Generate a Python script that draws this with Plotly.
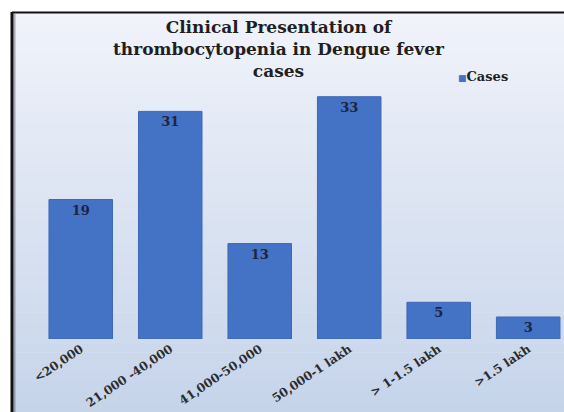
import plotly.graph_objects as go

categories = ["<20,000", "21,000 -40,000", "41,000-50,000", "50,000-1 lakh", "> 1-1.5 lakh", ">1.5 lakh"]
cases = [19, 31, 13, 33, 5, 3]
series_name = "Cases"
title_lines = ["Clinical Presentation of", "thrombocytopenia in Dengue fever", "cases"]

W, H = 564, 412
L, R, T, B = 36, 0, 60, 73
pw, ph = W - L - R, H - T - B


def px(x):
    return (x - L) / pw


def py(y):
    return (H - B - y) / ph


SERIF = "DejaVu Serif, serif"
BAR = "#4472c4"

fig = go.Figure()
fig.add_trace(go.Bar(
    x=categories, y=cases, name=series_name,
    marker=dict(color=BAR, line=dict(color="#3f68b5", width=1)),
    text=[str(v) for v in cases], textposition="inside", insidetextanchor="end",
    textfont=dict(family=SERIF, size=13, color="#1b2540", weight="bold"),
    constraintext="none", showlegend=False,
))

shapes = []
top, bot = 13, H
n = 40
c0 = (240, 243, 250)
c1 = (198, 212, 234)
for i in range(n):
    y0 = top + (bot - top) * i / n
    y1 = top + (bot - top) * (i + 1) / n
    t = i / (n - 1)
    c = tuple(round(c0[k] + (c1[k] - c0[k]) * t) for k in range(3))
    shapes.append(dict(type="rect", xref="paper", yref="paper", layer="below",
                       x0=px(12), x1=px(W + 2), y0=py(y1 + 0.5), y1=py(y0),
                       line=dict(width=0), fillcolor="rgb(%d,%d,%d)" % c))
shapes.append(dict(type="line", xref="paper", yref="paper", layer="above",
                   x0=px(12), x1=px(W + 2), y0=py(12.5), y1=py(12.5),
                   line=dict(color="#111111", width=2)))
shapes.append(dict(type="line", xref="paper", yref="paper", layer="above",
                   x0=px(12), x1=px(12), y0=py(12), y1=py(H + 2),
                   line=dict(color="#111111", width=3)))
shapes.append(dict(type="line", xref="paper", yref="paper", layer="above",
                   x0=px(14.5), x1=px(14.5), y0=py(14), y1=py(H + 2),
                   line=dict(color="rgba(80,80,90,0.45)", width=2)))

annotations = [dict(text="<b>" + "<br>".join(title_lines) + "</b>", xref="paper", yref="paper",
                    x=px(279), y=py(49), xanchor="center", yanchor="middle", align="center",
                    showarrow=False, font=dict(family=SERIF, size=17, color="#1f1f1f"))]
annotations.append(dict(text="<span style='color:%s;font-size:9px'>■</span><b>%s</b>" % (BAR, series_name),
                        xref="paper", yref="paper", x=px(456), y=py(76),
                        xanchor="left", yanchor="middle", showarrow=False,
                        font=dict(family=SERIF, size=13, color="#1f1f1f")))

fig.update_layout(
    width=W, height=H,
    margin=dict(l=L, r=R, t=T, b=B, pad=0, autoexpand=False),
    paper_bgcolor="white", plot_bgcolor="rgba(0,0,0,0)",
    bargap=0.29,
    shapes=shapes, annotations=annotations,
    showlegend=False,
    xaxis=dict(range=[-0.5, 5.4], tickangle=-34, showgrid=False, zeroline=False, showline=False,
               automargin=False, ticks="",
               tickfont=dict(family=SERIF, size=12, color="#2b2b2b", weight="bold")),
    yaxis=dict(range=[0, 38], visible=False, showgrid=False, automargin=False),
    font=dict(family=SERIF),
)

fig.write_html("out.html")
